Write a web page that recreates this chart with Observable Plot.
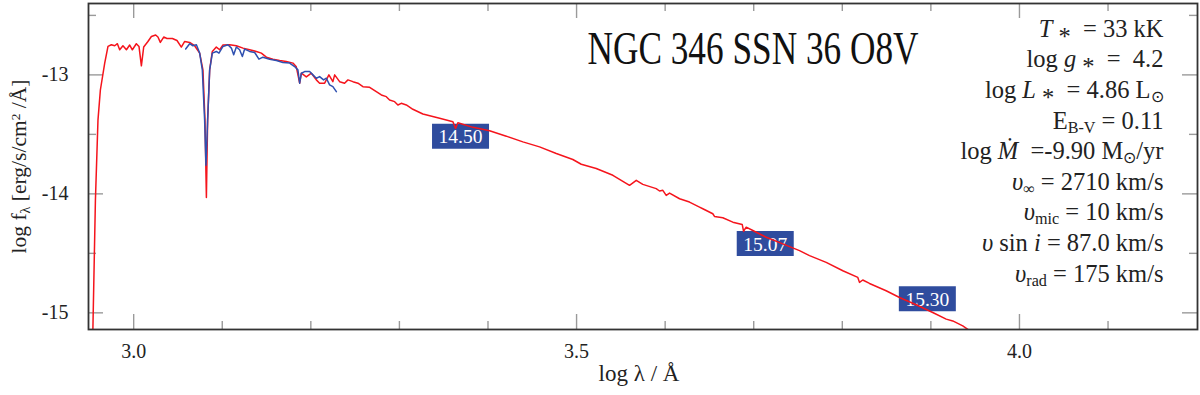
<!DOCTYPE html>
<html><head><meta charset="utf-8">
<script src="https://cdn.jsdelivr.net/npm/d3@7"></script>
<script src="https://cdn.jsdelivr.net/npm/@observablehq/plot@0.6"></script>
<style>
html,body{margin:0;padding:0;background:#fff;}
</style></head><body><div id="chart"></div>
<script>
// ---- data (log wavelength [Å], log flux [erg/s/cm^2/Å]) ----
const modelLogLam = [
2.9537,2.9568,2.9597,2.9624,2.9673,2.9710,2.9748,2.9786,2.9816,2.9842,
2.9879,2.9918,2.9955,2.9985,3.0030,3.0060,3.0087,3.0113,3.0161,3.0200,
3.0248,3.0274,3.0301,3.0339,3.0376,3.0437,3.0489,3.0538,3.0576,3.0632,
3.0688,3.0745,3.0782,3.0805,3.0821,3.0835,3.0858,3.0888,3.0933,3.0971,
3.1008,3.1084,3.1159,3.1234,3.1309,3.1385,3.1441,3.1498,3.1572,3.1648,
3.1723,3.1798,3.1836,3.1874,3.1893,3.1949,3.2006,3.2062,3.2099,3.2156,
3.2204,3.2249,3.2269,3.2325,3.2381,3.2419,3.2475,3.2532,3.2588,3.2664,
3.2739,3.2796,3.2852,3.2889,3.2946,3.2983,3.3021,3.3078,3.3152,3.3265,
3.3454,3.3604,3.3634,3.3660,3.3830,3.4018,3.4207,3.4394,3.4582,3.4771,
3.4958,3.5053,3.5222,3.5410,3.5598,3.5674,3.5748,3.5899,3.5937,3.5974,
3.6012,3.6050,3.6163,3.6275,3.6388,3.6425,3.6538,3.6557,3.6651,3.6764,
3.6870,3.6885,3.6915,3.6990,3.7141,3.7328,3.7517,3.7630,3.7818,3.8006,
3.8175,3.8194,3.8231,3.8307,3.8495,3.8646,3.8834,3.9021,3.9173,3.9247,
3.9360,3.9492];
const modelLogF = [
-15.236,-14.055,-13.380,-13.127,-12.901,-12.761,-12.747,-12.755,-12.738,-12.789,
-12.755,-12.789,-12.749,-12.789,-12.738,-12.761,-12.924,-12.766,-12.719,-12.677,
-12.665,-12.682,-12.727,-12.682,-12.694,-12.694,-12.711,-12.766,-12.719,-12.727,
-12.755,-12.817,-12.958,-13.380,-14.030,-13.380,-12.958,-12.803,-12.766,-12.789,
-12.749,-12.747,-12.755,-12.775,-12.789,-12.803,-12.817,-12.851,-12.868,-12.879,
-12.888,-12.901,-12.932,-13.070,-12.986,-13.017,-12.986,-13.042,-13.070,-13.070,
-13.000,-13.057,-13.000,-13.057,-13.070,-13.042,-13.057,-13.070,-13.099,-13.104,
-13.141,-13.169,-13.183,-13.211,-13.225,-13.253,-13.239,-13.253,-13.289,-13.329,
-13.365,-13.394,-13.450,-13.403,-13.441,-13.470,-13.515,-13.563,-13.605,-13.661,
-13.711,-13.751,-13.787,-13.844,-13.928,-13.886,-13.920,-13.956,-13.976,-13.970,
-14.013,-13.993,-14.041,-14.069,-14.111,-14.125,-14.167,-14.190,-14.201,-14.238,
-14.257,-14.314,-14.280,-14.308,-14.365,-14.420,-14.477,-14.519,-14.576,-14.646,
-14.702,-14.744,-14.724,-14.753,-14.814,-14.871,-14.932,-14.997,-15.053,-15.068,
-15.110,-15.177];
const obsLogLam = [
3.0587,3.0632,3.0669,3.0708,3.0745,3.0775,3.0801,3.0816,3.0835,3.0858,
3.0888,3.0933,3.0963,3.1008,3.1064,3.1103,3.1129,3.1159,3.1196,3.1227,
3.1253,3.1309,3.1366,3.1414,3.1459,3.1535,3.1611,3.1685,3.1761,3.1817,
3.1854,3.1874,3.1893,3.1930,3.1986,3.2024,3.2062,3.2099,3.2144,3.2175,
3.2212,3.2249,3.2288];
const obsLogF = [
-12.783,-12.738,-12.755,-12.747,-12.817,-12.958,-13.380,-13.759,-13.380,-12.958,
-12.817,-12.803,-12.817,-12.761,-12.747,-12.775,-12.831,-12.766,-12.789,-12.846,
-12.783,-12.803,-12.812,-12.868,-12.851,-12.868,-12.879,-12.896,-12.901,-12.930,
-12.958,-13.070,-12.986,-12.972,-12.972,-13.000,-13.028,-13.014,-13.042,-13.028,
-13.084,-13.099,-13.141];
const photLogLam = [3.369, 3.713, 3.896];
const photLogF = [-13.515, -14.418, -14.882];
const photMag = ["14.50", "15.07", "15.30"];

const xMajorTicks = [3.0, 3.5, 4.0];
const xMinorTicks = [3.1, 3.2, 3.3, 3.4, 3.6, 3.7, 3.8, 3.9, 4.1];
const yMajorTicks = [-13, -14, -15];
const yMinorTicks = [-12.5, -13.5, -14.5];

const titleText = "NGC 346 SSN 36 O8V";
const paramLines = [
  "<i>T</i> <ast>*</ast>  = 33 kK",
  "log <i>g</i> <ast>*</ast>  =  4.2",
  "log <i>L</i> <ast>*</ast>  = 4.86 L<sub>⊙</sub>",
  "E<sub>B-V</sub> = 0.11",
  "log <i>Ṁ</i>  =-9.90 M<sub>⊙</sub>/yr",
  "<i>υ</i><sub>∞</sub> = 2710 km/s",
  "<i>υ</i><sub>mic</sub> = 10 km/s",
  "<i>υ</i> sin <i>i</i> = 87.0 km/s",
  "<i>υ</i><sub>rad</sub> = 175 km/s"
];
const xLabel = "log λ / Å";
const yLabel = "log f<sub>λ</sub> [erg/s/cm<sup>2</sup> /Å]";

// ---- helpers ----
const strip = s => s.replace(/<[^>]+>/g, "");
const rich = s => s
  .replace(/<i>(.*?)<\/i>/g, '<tspan font-style="italic">$1</tspan>')
  .replace(/<ast>(.*?)<\/ast>/g, '<tspan baseline-shift="-0.32em">$1</tspan>')
  .replace(/<sub>(.*?)<\/sub>/g, '<tspan baseline-shift="-0.25em" style="font-size:66%">$1</tspan>')
  .replace(/<sup>(.*?)<\/sup>/g, '<tspan baseline-shift="0.45em" style="font-size:62%">$1</tspan>');

const model = modelLogLam.map((x, i) => ({x, y: modelLogF[i]}));
const obs = obsLogLam.map((x, i) => ({x, y: obsLogF[i]}));
const phot = photLogLam.map((x, i) => ({x, y: photLogF[i], m: photMag[i]}));

const W = 1200, H = 395, mL = 88, mR = 3, mT = 3, mB = 66;
const fw = W - mL - mR, fh = H - mT - mB;
const majLen = 15, minLen = 8;
const tickColor = "#9a9a9a";
const boxSymbol = {draw(ctx) { ctx.moveTo(-28.5, -12.5); ctx.lineTo(28.5, -12.5); ctx.lineTo(28.5, 12.5); ctx.lineTo(-28.5, 12.5); ctx.closePath(); }};
const serif = "'Liberation Serif', 'Times New Roman', serif";

const chart = Plot.plot({
  width: W, height: H,
  marginLeft: mL, marginRight: mR, marginTop: mT, marginBottom: mB,
  x: {domain: [2.949, 4.201]},
  y: {domain: [-15.14, -12.40]},
  style: {fontFamily: serif, fontSize: "20px", color: "#222", background: "#fff"},
  marks: [
    // inward ticks on four sides
    Plot.tickX(xMajorTicks, {x: d => d, insetTop: fh - majLen, stroke: tickColor, strokeWidth: 1.4}),
    Plot.tickX(xMinorTicks, {x: d => d, insetTop: fh - minLen, stroke: tickColor, strokeWidth: 1.4}),
    Plot.tickX(xMajorTicks, {x: d => d, insetBottom: fh - majLen, stroke: tickColor, strokeWidth: 1.4}),
    Plot.tickX(xMinorTicks, {x: d => d, insetBottom: fh - minLen, stroke: tickColor, strokeWidth: 1.4}),
    Plot.tickY(yMajorTicks, {y: d => d, insetRight: fw - majLen, stroke: tickColor, strokeWidth: 1.4}),
    Plot.tickY(yMinorTicks, {y: d => d, insetRight: fw - minLen, stroke: tickColor, strokeWidth: 1.4}),
    Plot.tickY(yMajorTicks, {y: d => d, insetLeft: fw - majLen, stroke: tickColor, strokeWidth: 1.4}),
    Plot.tickY(yMinorTicks, {y: d => d, insetLeft: fw - minLen, stroke: tickColor, strokeWidth: 1.4}),
    // photometry labels
    Plot.dot(phot, {x: "x", y: "y", symbol: boxSymbol, r: 10, fill: "#2f4c9e", stroke: "none"}),
    Plot.text(phot, {x: "x", y: "y", text: "m", fill: "#fff", fontSize: 19.5, dy: 1}),
    // spectra
    Plot.line(model, {x: "x", y: "y", stroke: "#f5141c", strokeWidth: 1.5, clip: true}),
    Plot.line(obs, {x: "x", y: "y", stroke: "#2f50b0", strokeWidth: 1.5, clip: true}),
    Plot.frame({stroke: "#333", strokeWidth: 1.8}),
    // axes (labels only)
    Plot.axisX({ticks: xMajorTicks, tickSize: 0, tickPadding: 14, tickFormat: d => d.toFixed(1), label: null, fontSize: 20}),
    Plot.axisY({ticks: yMajorTicks, tickSize: 0, tickPadding: 20, tickFormat: d => String(d), label: null, fontSize: 20}),
    // texts
    Plot.text([titleText], {text: d => d, frameAnchor: "top", lineAnchor: "top", dx: 110, dy: 28, fontSize: 46, fill: "#111"}),
    Plot.text([paramLines.map(strip).join("\n")], {text: d => d, frameAnchor: "top-right", textAnchor: "end", lineAnchor: "top", lineHeight: 1.25, fontSize: 24.5, dx: -34, dy: 11.5, fill: "#222"}),
    Plot.text([xLabel], {text: d => d, frameAnchor: "bottom", dx: -4, dy: 51, fontSize: 23, fill: "#222"}),
    Plot.text([strip(yLabel)], {text: d => d, frameAnchor: "left", textAnchor: "middle", rotate: -90, dx: -69, fontSize: 21.5, fill: "#222"})
  ]
});

document.getElementById("chart").appendChild(chart);

// rich text (italics, sub/superscripts)
const richMap = new Map([...paramLines, yLabel].map(s => [strip(s), rich(s)]));
chart.querySelectorAll("text, tspan").forEach(el => {
  if (el.childElementCount === 0 && richMap.has(el.textContent)) {
    el.innerHTML = richMap.get(el.textContent);
    const t = el.closest("text");
    t.style.whiteSpace = "pre";
    t.setAttribute("xml:space", "preserve");
  }
});
chart.querySelectorAll("text").forEach(el => {
  if (el.textContent === titleText) { el.setAttribute("textLength", 331); el.setAttribute("lengthAdjust", "spacingAndGlyphs"); }
});
</script>
</body></html>
